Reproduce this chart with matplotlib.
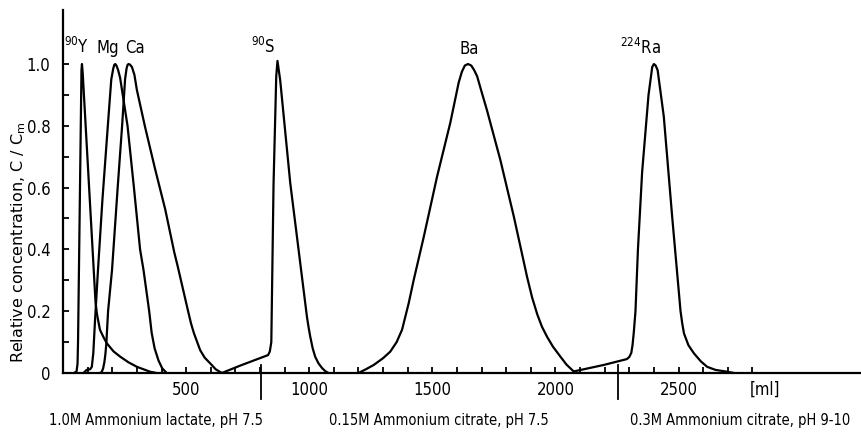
import matplotlib
matplotlib.use("Agg")
import matplotlib.pyplot as plt
import matplotlib.font_manager as fm
from matplotlib.ticker import FixedLocator, FixedFormatter, NullFormatter


def pick_font():
    entries = fm.fontManager.ttflist
    names = {f.name for f in entries}
    if "Liberation Sans Narrow" in names:
        return "Liberation Sans Narrow", "normal"
    if any(f.name == "DejaVu Sans" and str(f.stretch) == "condensed" for f in entries):
        return "DejaVu Sans", "condensed"
    return "DejaVu Sans", "normal"


family, stretch = pick_font()
plt.rcParams["font.family"] = [family, "DejaVu Sans"]
plt.rcParams["font.stretch"] = stretch
plt.rcParams["mathtext.fontset"] = "custom"
plt.rcParams["mathtext.rm"] = family
plt.rcParams["mathtext.it"] = family

# Elution volume (ml) and relative concentration C/Cm for each eluted ion
y90_ml = [45, 55, 59, 61, 75, 77, 80, 132, 138, 150, 165, 178, 205, 232, 265, 300, 354, 380]
y90_c = [0.0, 0.005, 0.03, 0.1, 0.98, 1.0, 0.97, 0.23, 0.19, 0.14, 0.115, 0.096, 0.07, 0.053, 0.035, 0.02, 0.004, 0.0]

mg_ml = [83, 96, 110, 117, 123, 130, 142, 160, 182, 196, 204, 208, 212, 217, 224, 232, 262, 288, 313, 327,
         350, 360, 372, 388, 403, 421]
mg_c = [0.0, 0.01, 0.012, 0.02, 0.064, 0.17, 0.333, 0.56, 0.8, 0.95, 0.985, 0.997, 1.0, 0.995, 0.98, 0.955,
        0.8, 0.6, 0.4, 0.333, 0.2, 0.13, 0.08, 0.04, 0.015, 0.0]

ca_ml = [150, 157, 163, 168, 172, 176, 183, 199, 222, 240, 252, 258, 262, 266, 272, 280, 290, 300, 333, 374,
         415, 452, 465, 508, 520, 532, 545, 557, 575, 598, 620, 645]
ca_c = [0.0, 0.003, 0.015, 0.035, 0.06, 0.096, 0.2, 0.333, 0.6, 0.8, 0.95, 0.985, 0.997, 1.0, 0.998, 0.99,
        0.965, 0.916, 0.797, 0.66, 0.53, 0.39, 0.348, 0.2, 0.16, 0.128, 0.1, 0.074, 0.05, 0.031, 0.012, 0.0]

sr_ml = [645, 720, 833, 840, 846, 855, 866, 871, 882, 923, 991, 998, 1004, 1014, 1024, 1037, 1052, 1065, 1078]
sr_c = [0.0, 0.024, 0.058, 0.07, 0.1, 0.61, 0.96, 1.01, 0.948, 0.614, 0.18, 0.145, 0.118, 0.08, 0.053, 0.032,
        0.016, 0.006, 0.0]

ba_ml = [1200, 1230, 1262, 1300, 1329, 1355, 1377, 1404, 1424, 1465, 1519, 1573, 1607, 1620, 1632, 1645, 1658,
         1670, 1682, 1700, 1722, 1776, 1831, 1885, 1905, 1926, 1945, 1966, 1990, 2020, 2045, 2074]
ba_c = [0.0, 0.012, 0.026, 0.048, 0.069, 0.1, 0.14, 0.226, 0.30, 0.44, 0.635, 0.81, 0.94, 0.975, 0.995, 1.0,
        0.995, 0.98, 0.96, 0.91, 0.85, 0.69, 0.506, 0.31, 0.245, 0.19, 0.15, 0.117, 0.085, 0.053, 0.027, 0.005]

ra_ml = [2074, 2196, 2290, 2300, 2308, 2313, 2318, 2325, 2335, 2352, 2378, 2393, 2400, 2407, 2415, 2440, 2474,
         2508, 2515, 2522, 2540, 2562, 2590, 2616, 2650, 2698, 2725]
ra_c = [0.005, 0.026, 0.045, 0.052, 0.065, 0.09, 0.13, 0.2, 0.4, 0.65, 0.9, 0.99, 1.0, 0.995, 0.98, 0.83, 0.506,
        0.2, 0.16, 0.128, 0.09, 0.064, 0.038, 0.02, 0.01, 0.004, 0.0]

# Peak labels: (text, volume, height)
peak_labels = [
    (r"$\mathregular{^{90}}$Y", 57, 1.035),
    ("Mg", 183, 1.035),
    ("Ca", 293, 1.035),
    (r"$\mathregular{^{90}}$S", 813, 1.035),
    ("Ba", 1650, 1.032),
    (r"$\mathregular{^{224}}$Ra", 2346, 1.032),
]

# Eluent changes: boundary volumes and eluent names
eluent_bounds = [805, 2252]
eluent_names = [
    ("1.0M Ammonium lactate, pH 7.5", 378),
    ("0.15M Ammonium citrate, pH 7.5", 1525),
    ("0.3M Ammonium citrate, pH 9-10", 2752),
]

x_major = [500, 1000, 1500, 2000, 2500]
x_major_labels = ["500", "1000", "1500", "2000", "2500"]
x_minor = [v for v in range(100, 2900, 100) if v not in x_major]
y_major = [0.0, 0.2, 0.4, 0.6, 0.8, 1.0]
y_major_labels = ["0", "0.2", "0.4", "0.6", "0.8", "1.0"]
y_minor = [0.1, 0.3, 0.5, 0.7, 0.9]

fig = plt.figure(figsize=(8.62, 4.32), dpi=100)
ax = fig.add_axes([0.0731, 0.1366, 0.9269, 0.8404])

lw = 1.6
for xs, cs in [(y90_ml, y90_c), (mg_ml, mg_c), (ca_ml, ca_c), (sr_ml, sr_c), (ba_ml, ba_c), (ra_ml, ra_c)]:
    ax.plot(xs, cs, color="black", lw=lw, solid_joinstyle="round", solid_capstyle="round", clip_on=False)

ax.set_xlim(0, 3245)
ax.set_ylim(0, 1.175)

for side in ("top", "right"):
    ax.spines[side].set_visible(False)
for side in ("left", "bottom"):
    ax.spines[side].set_linewidth(1.6)

ax.xaxis.set_major_locator(FixedLocator(x_major))
ax.xaxis.set_major_formatter(FixedFormatter(x_major_labels))
ax.xaxis.set_minor_locator(FixedLocator(x_minor))
ax.xaxis.set_minor_formatter(NullFormatter())
ax.yaxis.set_major_locator(FixedLocator(y_major))
ax.yaxis.set_major_formatter(FixedFormatter(y_major_labels))
ax.yaxis.set_minor_locator(FixedLocator(y_minor))

ax.tick_params(axis="both", which="both", direction="in", length=4.5, width=1.3, labelsize=12)
ax.tick_params(axis="x", which="major", pad=5.5)
ax.tick_params(axis="y", which="major", pad=9)

ax.text(2850, -0.026, "[ml]", ha="center", va="top", fontsize=12, clip_on=False)

for xb in eluent_bounds:
    ax.plot([xb, xb], [0.025, -0.085], color="black", lw=1.3, clip_on=False)

for name, xc in eluent_names:
    ax.text(xc, -0.155, name, ha="center", va="center", fontsize=10.5, clip_on=False)

for txt, xc, yc in peak_labels:
    ax.text(xc, yc, txt, ha="center", va="baseline", fontsize=12)

fig.text(19 / 862, 1 - 242 / 432, r"Relative concentration, C / C$_\mathregular{m}$",
         rotation=90, ha="center", va="center", fontsize=11.5, family=["DejaVu Sans"],
         fontstretch="normal", math_fontfamily="dejavusans")

fig.savefig("out.png", dpi=100)
